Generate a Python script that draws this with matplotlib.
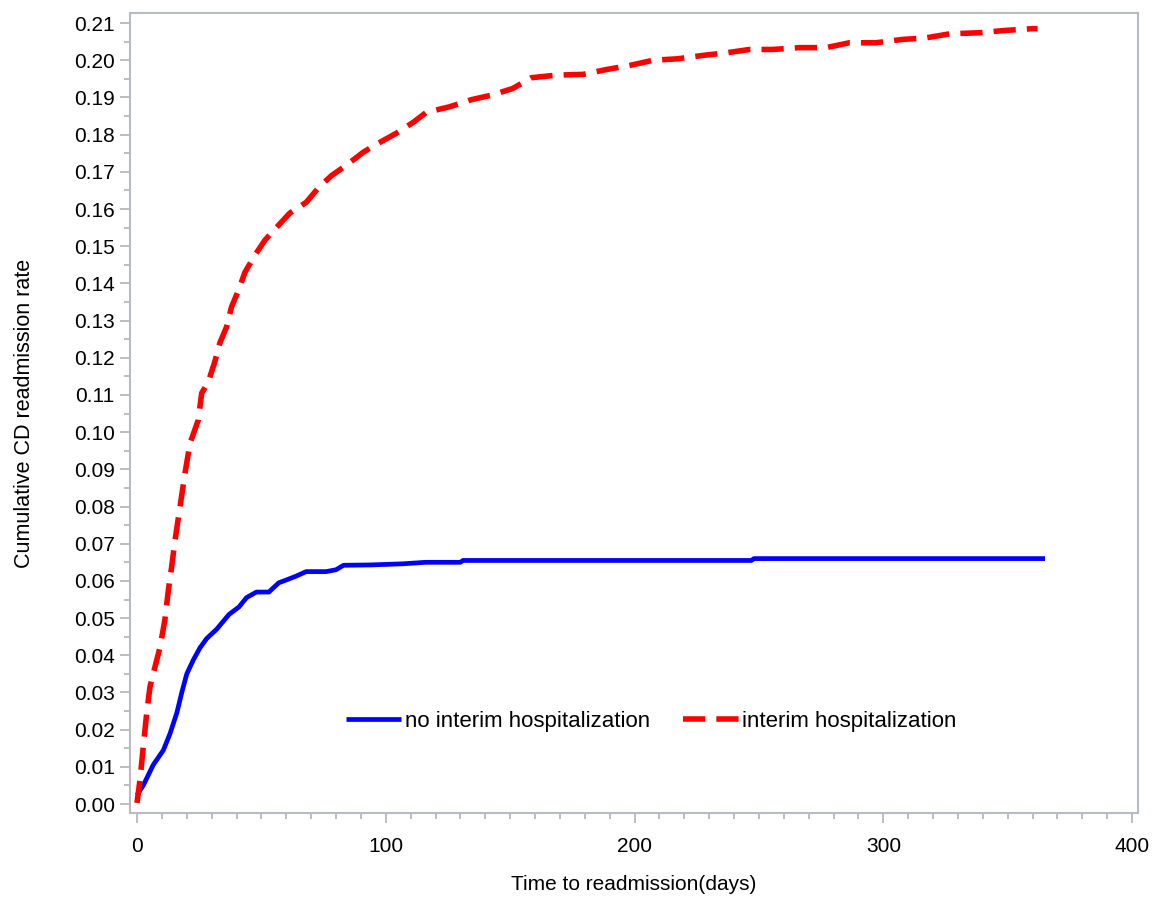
import matplotlib.pyplot as plt
import numpy as np

# Values
days_no = [0, 2.5, 6.5, 10.6, 13.3, 16, 18, 20, 22.6, 25.3, 28, 32, 37, 41, 44, 48,
           53, 57, 61, 64, 68, 76, 80, 83, 94, 107, 116, 130, 131, 247, 248, 365]
rate_no = [0.0024, 0.005, 0.0105, 0.0145, 0.019, 0.0245, 0.030, 0.035, 0.0387, 0.042,
           0.0445, 0.047, 0.051, 0.053, 0.0555, 0.057, 0.057, 0.0595, 0.0605, 0.0613,
           0.0625, 0.0625, 0.063, 0.0642, 0.0643, 0.0646, 0.065, 0.065, 0.0655, 0.0655,
           0.066, 0.066]

days_int = [0, 1.2, 2.5, 3.9, 5.2, 6.5, 9.2, 11.2, 12.6, 13.9, 15.3, 17.3, 19.3, 21.3,
            24.6, 26, 28.6, 31.3, 33.3, 36, 38, 40.7, 43.4, 47.4, 51.4, 56, 61.4, 68,
            72.8, 78.2, 84.2, 91, 97, 104.3, 111, 116.3, 125.7, 134.4, 142.4, 151,
            158.5, 168.5, 179.3, 188.6, 198, 207.4, 217.4, 227.4, 236.8, 246.2, 255.5,
            266.3, 277, 286.3, 297, 307.6, 317, 326.5, 338.5, 348.6, 360, 362]
rate_int = [0.0003, 0.0065, 0.0153, 0.0245, 0.0315, 0.035, 0.042, 0.0495, 0.0575,
            0.0637, 0.071, 0.080, 0.089, 0.097, 0.1032, 0.1105, 0.1134, 0.119, 0.124,
            0.1283, 0.1337, 0.138, 0.143, 0.1476, 0.1516, 0.155, 0.1589, 0.1618,
            0.1656, 0.169, 0.1718, 0.1753, 0.1777, 0.1804, 0.1833, 0.186, 0.1875,
            0.1894, 0.1906, 0.1924, 0.1953, 0.196, 0.1962, 0.1975, 0.1986, 0.200,
            0.2004, 0.2013, 0.202, 0.2029, 0.2029, 0.2034, 0.2034, 0.2047, 0.2047,
            0.2056, 0.206, 0.2071, 0.2074, 0.208, 0.2085, 0.2085]

plt.rcParams['font.family'] = ['Liberation Sans', 'DejaVu Sans']

fig = plt.figure(figsize=(11.56, 8.99), dpi=100)
ax = fig.add_axes([0.1125, 0.0957, 0.872, 0.8898])

ax.plot(days_no, rate_no, color='#0000ff', lw=3.4, solid_capstyle='butt',
        label='no interim hospitalization')
ax.plot(days_int, rate_int, color='#ff0000', lw=4.0, dashes=(4, 2),
        label='interim hospitalization')

ax.set_xlim(-2.8, 402.4)
ax.set_ylim(-0.0024, 0.2127)
ax.set_xticks(np.arange(0, 401, 100))
ax.set_xticks(np.arange(0, 401, 10), minor=True)
ax.set_yticks(np.arange(0, 0.2101, 0.01))
ax.set_yticks(np.arange(0.005, 0.21, 0.01), minor=True)
ax.yaxis.set_major_formatter(plt.FormatStrFormatter('%.2f'))

for s in ax.spines.values():
    s.set_color('#b8bcc0')
    s.set_linewidth(1.5)
ax.tick_params(which='major', direction='out', length=7, width=1.2, color='#b0b4b8',
               labelsize=15, pad=4)
ax.tick_params(which='minor', direction='out', length=4, width=1.2, color='#b0b4b8')
ax.tick_params(axis='x', pad=10)

ax.set_xlabel('Time to readmission(days)', fontsize=15, labelpad=14)
ax.set_ylabel('Cumulative CD readmission rate', fontsize=15.5, labelpad=28)

ax.legend(loc='center', bbox_to_anchor=(0.517, 0.114), ncol=2, frameon=False,
          fontsize=16, handlelength=2.5, handletextpad=0.15, columnspacing=1.5)

fig.savefig('out.png', dpi=100)
